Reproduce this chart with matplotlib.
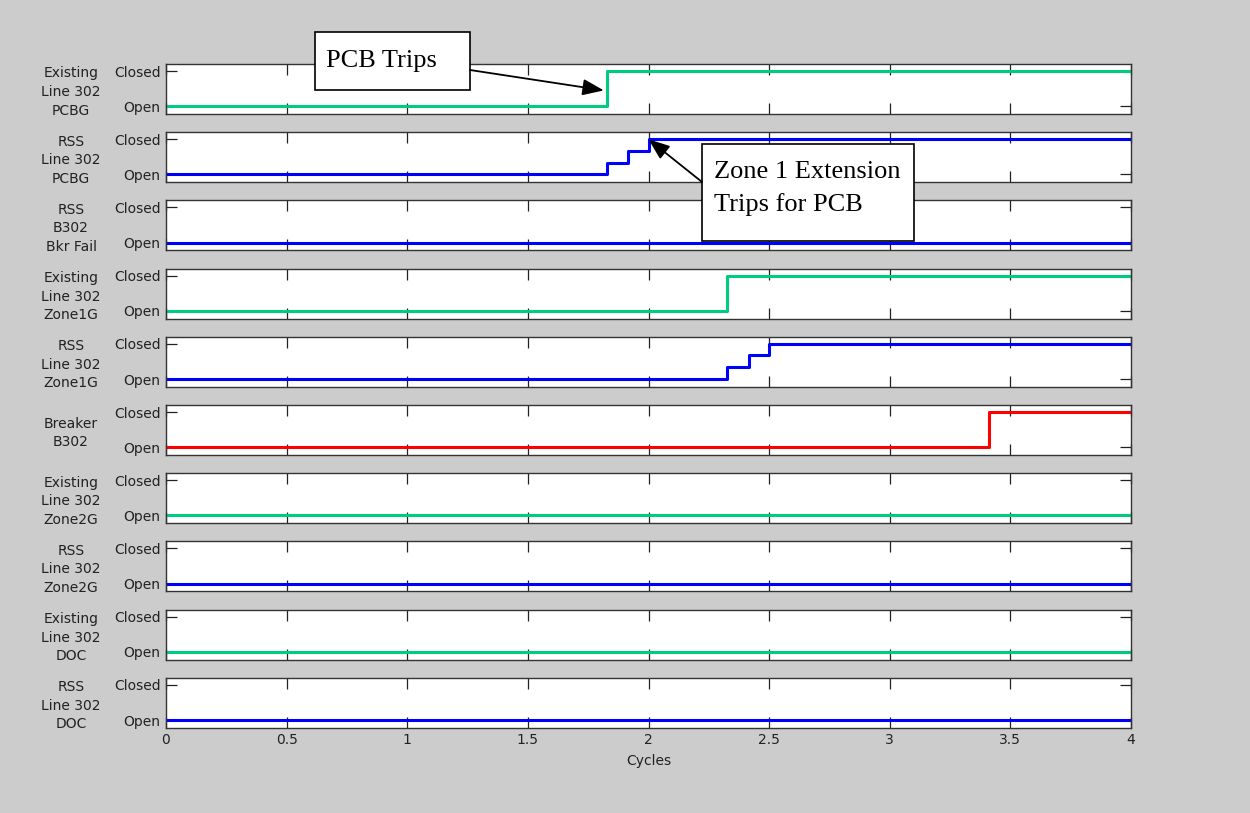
import numpy as np
import matplotlib
matplotlib.use("Agg")
import matplotlib.pyplot as plt
from matplotlib.patches import Rectangle
from matplotlib.text import Annotation

# signal names (left labels), one entry per panel
labels = [
    "Existing\nLine 302\nPCBG",
    "RSS\nLine 302\nPCBG",
    "RSS\nB302\nBkr Fail",
    "Existing\nLine 302\nZone1G",
    "RSS\nLine 302\nZone1G",
    "Breaker\nB302",
    "Existing\nLine 302\nZone2G",
    "RSS\nLine 302\nZone2G",
    "Existing\nLine 302\nDOC",
    "RSS\nLine 302\nDOC",
]

# step times (cycles) and state values (0 = Open, 1 = Closed)
times = [
    [0, 1.83, 4],
    [0, 1.83, 1.915, 2.0, 4],
    [0, 4],
    [0, 2.325, 4],
    [0, 2.325, 2.415, 2.5, 4],
    [0, 3.41, 4],
    [0, 4],
    [0, 4],
    [0, 4],
    [0, 4],
]
states = [
    [0, 1, 1],
    [0, 0.33, 0.67, 1, 1],
    [0, 0],
    [0, 1, 1],
    [0, 0.33, 0.67, 1, 1],
    [0, 1, 1],
    [0, 0],
    [0, 0],
    [0, 0],
    [0, 0],
]
green = "#00cc80"
blue = "#0000ff"
red = "#ff0000"
colors = [green, blue, blue, green, blue, red, green, blue, green, blue]

xticks = [0, 0.5, 1, 1.5, 2, 2.5, 3, 3.5, 4]
xticklabels = ["0", "0.5", "1", "1.5", "2", "2.5", "3", "3.5", "4"]

plt.rcParams['font.family'] = ['DejaVu Sans']
plt.rcParams['font.size'] = 10

W, H = 1250, 813
fig = plt.figure(figsize=(W / 100, H / 100), dpi=100, facecolor="#cccccc")

def fx(px):
    return px / W

def fy(py):
    return 1 - py / H

left, right = 166, 1131
top0, step, height = 64, 68.2, 50

axes = []
for i in range(len(labels)):
    top = top0 + i * step
    ax = fig.add_axes([fx(left), fy(top + height), (right - left) / W, height / H])
    ax.plot(times[i], states[i], drawstyle="steps-post", color=colors[i], lw=2.2)
    ax.set_xlim(0, 4)
    ax.set_ylim(-0.22, 1.2)
    ax.set_yticks([0, 1])
    ax.set_yticklabels(["Open", "Closed"])
    ax.set_xticks(xticks)
    if i == len(labels) - 1:
        ax.set_xticklabels(xticklabels)
        ax.set_xlabel("Cycles", labelpad=5, color="#222222")
    else:
        ax.set_xticklabels([])
    ax.tick_params(direction="in", length=8, width=0.9, top=True, right=True,
                   color="#222222", labelcolor="#222222", pad=4)
    for s in ax.spines.values():
        s.set_color("#333333")
        s.set_linewidth(1.0)
    fig.text(fx(71), fy(top + height / 2 + 3), labels[i], ha="center", va="center",
             multialignment="center", linespacing=1.42, color="#222222")
    axes.append(ax)

# callouts (drawn at figure level so they sit above all panels)
serif = ['Liberation Serif', 'DejaVu Serif']

def callout(x0, y0, x1, y1, lines, tx, baselines):
    fig.add_artist(Rectangle((fx(x0), fy(y1)), (x1 - x0) / W, (y1 - y0) / H,
                             transform=fig.transFigure, fc="white", ec="black",
                             lw=1.2, zorder=10))
    for line, b in zip(lines, baselines):
        fig.add_artist(plt.Text(fx(tx), fy(b), line, family=serif, fontsize=19,
                                ha="left", va="baseline", color="black",
                                transform=fig.transFigure, zorder=11))

def arrow(ax, xy, start_px):
    ann = Annotation("", xy=xy, xycoords=ax.transData,
                     xytext=(fx(start_px[0]), fy(start_px[1])), textcoords=fig.transFigure,
                     arrowprops=dict(arrowstyle="-|>,head_length=1.3,head_width=0.5",
                                     color="black", lw=1.3, shrinkA=0, shrinkB=0,
                                     mutation_scale=10))
    ann.set_zorder(12)
    fig.add_artist(ann)

callout(315, 32, 470, 90, ["PCB Trips"], 326, [67])
arrow(axes[0], (1.815, 0.45), (470, 70))

callout(702, 144, 914, 241, ["Zone 1 Extension", "Trips for PCB"], 714, [178, 211])
arrow(axes[1], (2.0, 1.0), (702, 182))

plt.savefig("out.png", dpi=100, facecolor=fig.get_facecolor())
